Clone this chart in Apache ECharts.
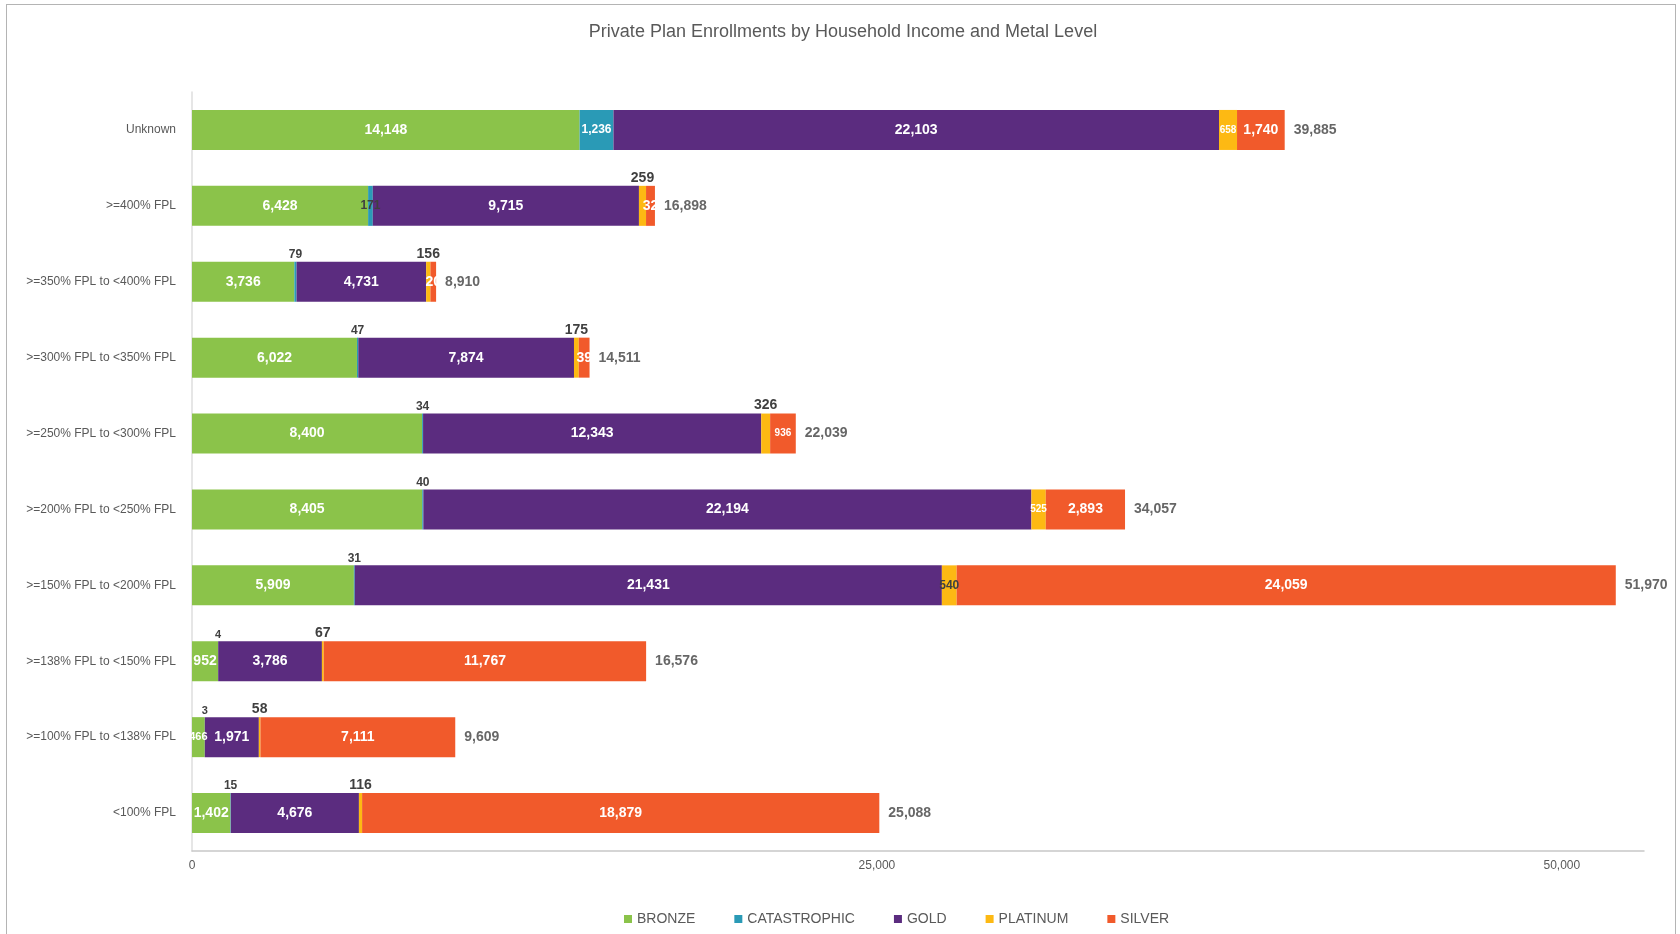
<!DOCTYPE html>
<html>
<head>
<meta charset="utf-8">
<script src="https://cdn.jsdelivr.net/npm/echarts@6/dist/echarts.min.js"></script>
<style>
html,body{margin:0;padding:0;background:#fff;}
#frame{position:absolute;left:6px;top:4px;width:1670px;height:940px;border:1px solid #b4b4b4;box-sizing:border-box;}
#chart{position:absolute;left:0;top:0;width:1680px;height:934px;}
</style>
</head>
<body>
<div id="frame"></div>
<div id="chart"></div>
<script>
const categories = ['Unknown', '>=400% FPL', '>=350% FPL to <400% FPL', '>=300% FPL to <350% FPL', '>=250% FPL to <300% FPL', '>=200% FPL to <250% FPL', '>=150% FPL to <200% FPL', '>=138% FPL to <150% FPL', '>=100% FPL to <138% FPL', '<100% FPL'];
const seriesNames = ['BRONZE', 'CATASTROPHIC', 'GOLD', 'PLATINUM', 'SILVER'];
const bronze = [14148, 6428, 3736, 6022, 8400, 8405, 5909, 952, 466, 1402];
const catastrophic = [1236, 171, 79, 47, 34, 40, 31, 4, 3, 15];
const gold = [22103, 9715, 4731, 7874, 12343, 22194, 21431, 3786, 1971, 4676];
const platinum = [658, 259, 156, 175, 326, 525, 540, 67, 58, 116];
const silver = [1740, 325, 208, 393, 936, 2893, 24059, 11767, 7111, 18879];
const xTickValues = [0, 25000, 50000];

const FONT = 'Liberation Sans, Arial, sans-serif';
const colors = ['#8BC34A', '#2A9AB6', '#5B2C7F', '#FDB913', '#F15A2B'];
const fmt = v => Number(v).toLocaleString('en-US');

const white = (size) => ({position: 'inside', color: '#fff', fontWeight: 'bold', fontSize: size});
const dark = (size) => ({position: 'inside', color: '#404040', fontWeight: 'bold', fontSize: size});
const above = (size) => ({position: 'top', distance: 1, color: '#404040', fontWeight: 'bold', fontSize: size});
const clipped = {position: 'inside', color: '#fff', fontWeight: 'bold', fontSize: 14, width: 21, overflow: 'truncate', ellipsis: ''};

const baseLabels = [white(14), above(12), white(14), above(14), white(14)];
const labelOverrides = [
  {8: white(11)},
  {0: white(12), 1: dark(12), 7: above(11), 8: above(11)},
  {},
  {0: white(10), 5: white(10), 6: dark(12)},
  {1: clipped, 2: clipped, 3: clipped, 4: white(10)}
];

const values = [bronze, catastrophic, gold, platinum, silver];
const totals = categories.map((c, i) => values.reduce((s, arr) => s + arr[i], 0));

const barSeries = seriesNames.map((name, k) => ({
  name: name,
  type: 'bar',
  stack: 'total',
  barWidth: 40,
  itemStyle: {color: colors[k]},
  label: Object.assign({show: true, fontFamily: FONT, formatter: p => fmt(p.value)}, baseLabels[k]),
  data: values[k].map((v, i) => {
    const o = {value: v};
    if (labelOverrides[k][i]) o.label = labelOverrides[k][i];
    return o;
  })
}));

const totalSeries = {
  name: 'Total',
  type: 'scatter',
  symbolSize: 0,
  silent: true,
  label: {show: true, position: 'right', distance: 9, color: '#404040', fontWeight: 'bold', fontSize: 14, fontFamily: FONT, formatter: p => fmt(p.value[0])},
  data: totals.map((t, i) => [t, categories[i]])
};

const chart = echarts.init(document.getElementById('chart'));
chart.setOption({
  animation: false,
  textStyle: {fontFamily: FONT},
  title: {
    text: 'Private Plan Enrollments by Household Income and Metal Level',
    left: 838, textAlign: 'center', top: 18,
    textStyle: {fontSize: 18, fontWeight: 'normal', color: '#595959', fontFamily: FONT}
  },
  legend: {
    data: seriesNames,
    left: 619, top: 907,
    icon: 'rect', itemWidth: 8, itemHeight: 8, itemGap: 39,
    textStyle: {fontSize: 14, color: '#595959', fontFamily: FONT}
  },
  grid: {left: 192, right: 36, top: 92, bottom: 83, containLabel: false},
  xAxis: {
    type: 'value', min: 0, max: 53000, interval: 25000,
    axisLine: {show: true, lineStyle: {color: '#c8c8c8', width: 1.5}},
    axisTick: {show: false},
    splitLine: {show: false},
    axisLabel: {
      showMaxLabel: false, margin: 9, color: '#595959', fontSize: 12, fontFamily: FONT,
      formatter: v => xTickValues.indexOf(v) >= 0 ? fmt(v) : ''
    }
  },
  yAxis: {
    type: 'category', data: categories, inverse: true,
    axisLine: {show: true, lineStyle: {color: '#dedede', width: 1.5}},
    axisTick: {show: false},
    axisLabel: {margin: 16, align: 'right', color: '#595959', fontSize: 12, fontFamily: FONT}
  },
  series: barSeries.concat([totalSeries])
});
</script>
</body>
</html>
